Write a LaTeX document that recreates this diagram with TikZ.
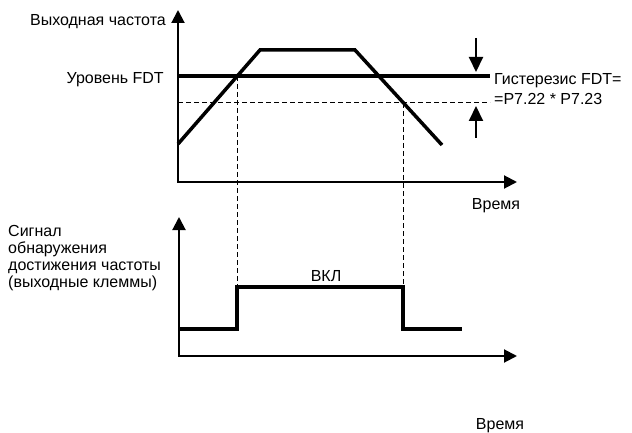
\documentclass[tikz,border=0pt]{standalone}
\usepackage{fontspec}
\setmainfont{Liberation Sans}
\usetikzlibrary{arrows.meta,positioning}

\begin{document}
\begin{tikzpicture}[x=1pt, y=-1pt,
  axisline/.style={line width=2, {Triangle[width=13pt,length=13pt]}-{Triangle[width=13pt,length=13pt]}},
  curveline/.style={line width=3.5, line join=miter},
  dashline/.style={line width=1, dash pattern=on 5pt off 3pt},
  hystarrow/.style={line width=2, -{Triangle[width=14pt,length=15pt]}},
  labeltext/.style={font=\fontsize{16}{16.7}\selectfont, inner sep=0pt},
  hysttext/.style={font=\fontsize{16}{20}\selectfont, inner sep=0pt},
]
\useasboundingbox (0,0) rectangle (632,433);

%LEVELS
\coordinate (on) at (237,76);
\coordinate (off) at (403,103);
\coordinate (high) at (0,287);
\coordinate (low) at (0,329);

%OUTPUT FREQUENCY
\draw[axisline] (178,10) |- (517,182);
\draw[curveline] (178,76) -- (490,76);
\draw[dashline] (178,103) -- (490,103);
\draw[curveline] (178,144) -- (260,50) -- (355,50) -- (442,145);

%HYSTERESIS
\draw[hystarrow] (476,38) -- (476,72);
\draw[hystarrow] (476,138) -- (476,106);

%DETECTION SIGNAL
\draw[axisline] (179,217) |- (517,356);
\draw[curveline] (179,329) -| (on |- high) -| (off |- low) -- (462,329);
\draw[dashline] (on) -- (on |- high);
\draw[dashline] (off) -- (off |- high);

%LABELS
\node[labeltext, anchor=base east] (freqlabel) at (166,26) {Выходная частота};
\node[labeltext, anchor=base east] (fdtlabel) at (164,84) {Уровень FDT};
\node[hysttext, anchor=base west, align=left] (hystlabel) at (494,105) {Гистерезис FDT=\\=P7.22 * P7.23};
\node[labeltext, anchor=base] (timetop) at (496,209) {Время};
\node[labeltext, anchor=base west, align=left] (signallabel) at (8,287) {Сигнал\\обнаружения\\достижения частоты\\(выходные клеммы)};
\node[labeltext, anchor=base] (onlabel) at (326,281) {ВКЛ};
\node[labeltext, anchor=base] (timebottom) at (500,429) {Время};

\end{tikzpicture}
\end{document}
